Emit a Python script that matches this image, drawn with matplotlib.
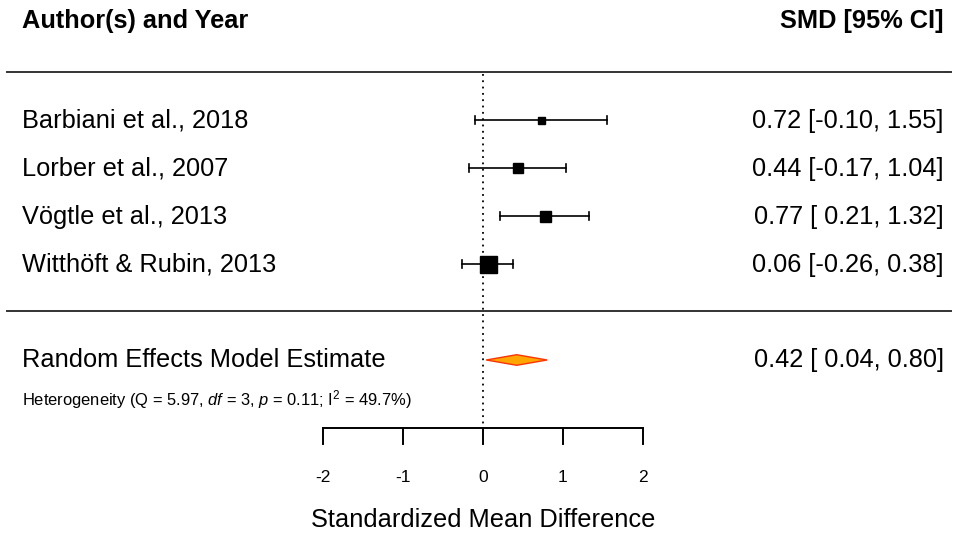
import numpy as np
import matplotlib.pyplot as plt
from matplotlib.patches import Polygon

plt.rcParams['font.family'] = ['Liberation Sans', 'DejaVu Sans']
plt.rcParams['mathtext.fontset'] = 'custom'
plt.rcParams['mathtext.rm'] = 'Liberation Sans'
plt.rcParams['mathtext.it'] = 'Liberation Sans:italic'

# study data
studies = ["Barbiani et al., 2018", "Lorber et al., 2007",
           "Vögtle et al., 2013", "Witthöft & Rubin, 2013"]
smd = [0.72, 0.44, 0.77, 0.06]
ci_lo = [-0.10, -0.17, 0.21, -0.26]
ci_hi = [1.55, 1.04, 1.32, 0.38]
box_px = [7, 10, 11, 17]  # square size, grows with study weight

# random effects summary
re_est, re_lo, re_hi = 0.42, 0.04, 0.80
het_text = r"Heterogeneity (Q = 5.97, $\it{df}$ = 3, $\it{p}$ = 0.11; I$^2$ = 49.7%)"

ticks = [-2, -1, 0, 1, 2]

fig = plt.figure(figsize=(9.54, 5.35), dpi=100)
ax = fig.add_axes([0, 0, 1, 1])
ax.set_xlim(-6.0375, 5.8875)
ax.set_ylim(-4.646, 6.5)
ax.axis('off')

rows = np.arange(len(studies), 0, -1)
x_left, x_right = -5.76, 5.76
fs = 18.3

# header and separators
ax.text(x_left, 6.07, "Author(s) and Year", fontsize=fs, fontweight='bold', va='center', ha='left')
ax.text(x_right, 6.07, "SMD [95% CI]", fontsize=fs, fontweight='bold', va='center', ha='right')
ax.plot([-5.95, 5.85], [5, 5], color='#333333', lw=1.4)
ax.plot([-5.95, 5.85], [0.03, 0.03], color='#333333', lw=1.4)

# reference line at zero
ax.plot([0, 0], [4.95, -2.42], color='black', lw=1.3, ls=(0, (1, 2.5)))

for y, name, m, lo, hi, s in zip(rows, studies, smd, ci_lo, ci_hi, box_px):
    ax.plot([lo, hi], [y, y], color='black', lw=1.2)
    for e in (lo, hi):
        ax.plot([e, e], [y - 0.085, y + 0.085], color='black', lw=1.2)
    ax.plot(m, y, marker='s', ms=s * 0.72, color='black', mec='black')
    ax.text(x_left, y - 0.02, name, fontsize=fs, va='center', ha='left')
    ax.text(x_right, y - 0.02, f"{m:.2f} [{lo:5.2f}, {hi:.2f}]".replace("[ -", "[-"),
            fontsize=fs, va='center', ha='right')

# summary diamond
yre = -1
dh = 0.11
ax.add_patch(Polygon([[re_lo, yre], [re_est, yre + dh], [re_hi, yre], [re_est, yre - dh]],
                     closed=True, facecolor='#FFA500', edgecolor='#FF3300', lw=1))
ax.text(x_left, yre, "Random Effects Model Estimate", fontsize=fs, va='center', ha='left')
ax.text(x_right, yre, f"{re_est:.2f} [{re_lo:5.2f}, {re_hi:.2f}]", fontsize=fs, va='center', ha='right')
ax.text(x_left, -1.83, het_text, fontsize=11.9, va='center', ha='left')

# x axis
ya = -2.42
ax.plot([ticks[0], ticks[-1]], [ya, ya], color='black', lw=1.4)
for t in ticks:
    ax.plot([t, t], [ya, ya - 0.33], color='black', lw=1.4)
    ax.text(t, -3.44, f"{t}", fontsize=12.5, va='center', ha='center')
ax.text(0, -4.33, "Standardized Mean Difference", fontsize=fs, va='center', ha='center')

fig.savefig("out.png", dpi=100)
